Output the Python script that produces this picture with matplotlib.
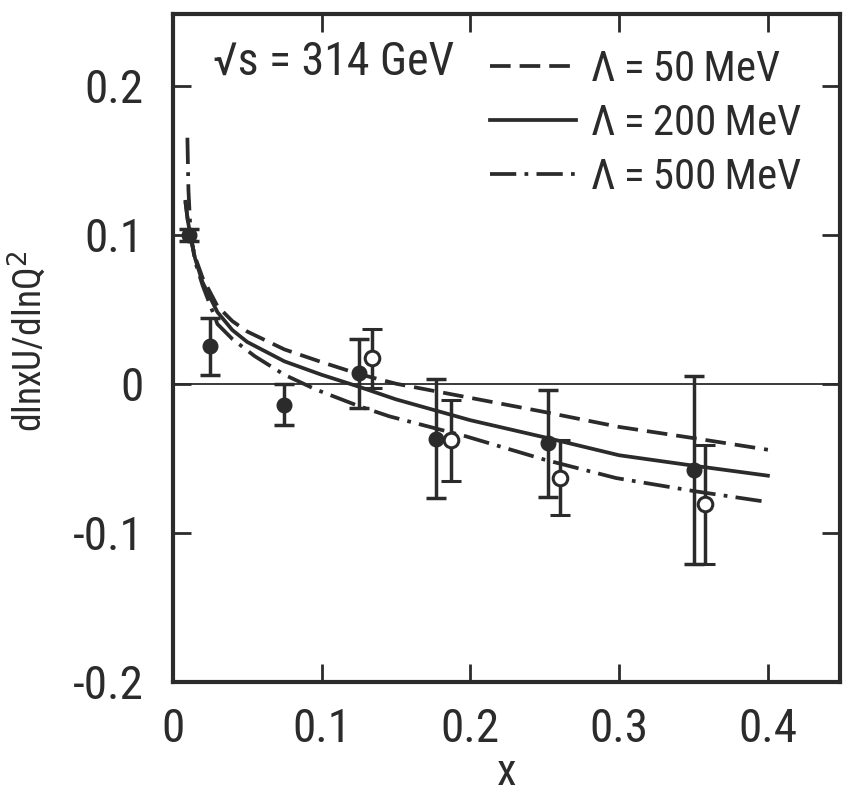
import matplotlib
matplotlib.use("Agg")
import matplotlib.pyplot as plt
from matplotlib import font_manager

# ---- data ----
x_curve_50 = [0.0085, 0.010, 0.012, 0.015, 0.02, 0.03, 0.04, 0.05, 0.075, 0.10, 0.125, 0.15, 0.20, 0.25, 0.30, 0.35, 0.40]
y_curve_50 = [0.122, 0.110, 0.098, 0.085, 0.071, 0.052, 0.042, 0.035, 0.023, 0.0145, 0.0065, 0.0, -0.0095, -0.019, -0.029, -0.0365, -0.0443]

x_curve_200 = [0.0085, 0.010, 0.012, 0.015, 0.02, 0.03, 0.04, 0.05, 0.075, 0.10, 0.125, 0.15, 0.20, 0.25, 0.30, 0.35, 0.40]
y_curve_200 = [0.122, 0.110, 0.098, 0.084, 0.068, 0.048, 0.036, 0.028, 0.015, 0.006, -0.002, -0.0105, -0.0245, -0.036, -0.048, -0.055, -0.0617]

x_curve_500 = [0.0098, 0.0105, 0.012, 0.015, 0.02, 0.03, 0.04, 0.055, 0.075, 0.0964, 0.125, 0.1456, 0.197, 0.25, 0.298, 0.35, 0.40]
y_curve_500 = [0.165, 0.130, 0.100, 0.082, 0.066, 0.040, 0.030, 0.0185, 0.006, -0.004, -0.015, -0.0219, -0.0353, -0.051, -0.0633, -0.072, -0.0794]

x_filled = [0.011, 0.025, 0.075, 0.125, 0.177, 0.252, 0.350]
y_filled = [0.100, 0.025, -0.014, 0.007, -0.037, -0.040, -0.058]
e_filled = [0.004, 0.019, 0.0135, 0.023, 0.040, 0.036, 0.063]

x_open = [0.134, 0.187, 0.260, 0.358]
y_open = [0.017, -0.038, -0.063, -0.081]
e_open = [0.020, 0.027, 0.025, 0.040]

labels = ["\u039b\u2009=\u200950\u2009MeV", "\u039b\u2009=\u2009200\u2009MeV", "\u039b\u2009=\u2009500\u2009MeV"]
xticks = [0, 0.1, 0.2, 0.3, 0.4]
xticklabels = ["0", "0.1", "0.2", "0.3", "0.4"]
yticks = [-0.2, -0.1, 0, 0.1, 0.2]
yticklabels = ["-0.2", "-0.1", "0", "0.1", "0.2"]

# ---- style ----
ink = "#2b2b2b"
installed = {f.name for f in font_manager.fontManager.ttflist}
narrow = [n for n in ["Roboto Condensed", "Open Sans Condensed", "DejaVu Sans Condensed",
                      "Liberation Sans Narrow"] if n in installed]
if narrow:
    fam = [narrow[0], 'DejaVu Sans']
    big = 34
else:
    fam = ['Roboto', 'DejaVu Sans']
    big = 29
plt.rcParams['font.family'] = fam

fig = plt.figure(figsize=(8.43, 8.05), dpi=100)
ax = fig.add_axes([0.205, 0.153, 0.7915, 0.8296])

ax.axhline(0, color=ink, lw=1.3, zorder=1)

l1, = ax.plot(x_curve_50, y_curve_50, color=ink, lw=2.7, dashes=(5.5, 2.4), label=labels[0])
l2, = ax.plot(x_curve_200, y_curve_200, color=ink, lw=2.7, label=labels[1])
l3, = ax.plot(x_curve_500, y_curve_500, color=ink, lw=2.7, dashes=(7, 2.2, 1, 2.2), label=labels[2])

ax.errorbar(x_filled, y_filled, yerr=e_filled, fmt='o', color=ink, ms=10.5,
            mfc=ink, mec=ink, ecolor=ink, elinewidth=2.5, capsize=7, capthick=2.5, zorder=5)
ax.errorbar(x_open, y_open, yerr=e_open, fmt='o', color=ink, ms=10.5,
            mfc='white', mec=ink, mew=2.2, ecolor=ink, elinewidth=2.5, capsize=7, capthick=2.5, zorder=5)

ax.set_xlim(0, 0.4485)
ax.set_ylim(-0.2, 0.248)

ax.set_xticks(xticks)
ax.set_xticklabels(xticklabels)
ax.set_yticks(yticks)
ax.set_yticklabels(yticklabels)
ax.tick_params(direction='in', length=13, width=2, colors=ink, labelsize=big,
               top=True, right=True)
ax.tick_params(axis='x', pad=18)
ax.tick_params(axis='y', pad=21)

for s in ax.spines.values():
    s.set_linewidth(3)
    s.set_color(ink)

ax.set_xlabel("x", fontsize=big - 2, color=ink, labelpad=1)
ax.set_ylabel("dlnxU/dlnQ$^2$", fontsize=big - 7, color=ink)
ax.yaxis.set_label_coords(-0.185, 0.51)

ax.text(0.06, 0.928, "\u221as = 314 GeV", transform=ax.transAxes,
        fontsize=big - 1, color=ink, ha='left', va='center')

leg = ax.legend(handles=[l1, l2, l3], loc='upper right', bbox_to_anchor=(1.0, 1.005),
                frameon=False, fontsize=big - 3, handlelength=2.0, handletextpad=0.35,
                labelspacing=0.3, labelcolor=ink)

fig.savefig("out.png", dpi=100)
